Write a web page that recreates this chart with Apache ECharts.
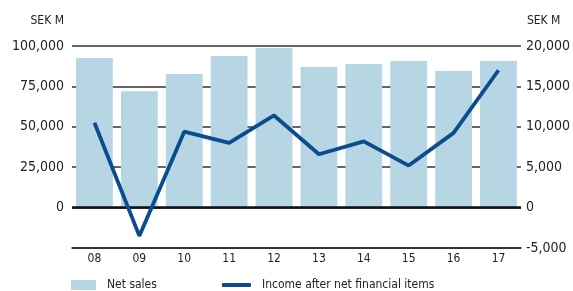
<!DOCTYPE html>
<html>
<head>
<meta charset="utf-8">
<style>
html, body { margin: 0; padding: 0; background: #fff; }
#main { width: 573px; height: 291px; }
</style>
<script src="https://cdn.jsdelivr.net/npm/echarts@6/dist/echarts.min.js"></script>
</head>
<body>
<div id="main"></div>
<script>
// år
const years = ['08', '09', '10', '11', '12', '13', '14', '15', '16', '17']
// Net sales, SEK M (vänster axel)
const netSales = [92500, 72000, 82600, 93800, 98800, 87000, 88800, 90700, 84500, 90700]
// Income after net financial items, SEK M (höger axel)
const income = [10500, -3500, 9400, 8000, 11400, 6600, 8200, 5200, 9250, 17000]

const font = '"DejaVu Sans Condensed", "Liberation Sans Narrow", sans-serif'
const fmt = v => v.toLocaleString('en-US')
const legendText = { fontSize: 12, color: '#222', fontFamily: font, lineHeight: 14, padding: [0, 0, 0, 6] }

const chart = echarts.init(document.getElementById('main'))
chart.setOption({
  animation: false,
  textStyle: { fontFamily: font },
  grid: { left: 72, right: 52, top: 46, bottom: 43 },
  legend: [{
    top: 278,
    left: 71,
    padding: 0,
    itemWidth: 25,
    itemHeight: 10,
    itemGap: 10,
    textStyle: legendText,
    data: [{ name: 'Net sales', icon: 'rect' }]
  }, {
    top: 278,
    left: 222,
    padding: 0,
    itemWidth: 29,
    itemHeight: 4,
    itemGap: 10,
    textStyle: legendText,
    data: [{ name: 'Income after net financial items', icon: 'roundRect' }]
  }],
  xAxis: {
    type: 'category',
    data: years,
    axisLine: { onZero: false, lineStyle: { color: '#222', width: 1.5 } },
    axisTick: { show: false },
    axisLabel: { color: '#222', fontSize: 12, margin: 5 }
  },
  yAxis: [{
    type: 'value',
    name: 'SEK M',
    nameGap: 19,
    nameTextStyle: { color: '#222', fontSize: 12, align: 'right', padding: [0, 8, 0, 0] },
    min: -25000, max: 100000, interval: 25000,
    axisLine: { show: false },
    axisTick: { show: false },
    axisLabel: {
      color: '#222', fontSize: 14, margin: 8,
      formatter: v => v < 0 ? '' : fmt(v)
    },
    splitLine: { lineStyle: { color: '#333', width: 1.5 } }
  }, {
    type: 'value',
    name: 'SEK M',
    nameGap: 19,
    nameTextStyle: { color: '#222', fontSize: 12, align: 'left', padding: [0, 0, 0, 6] },
    min: -5000, max: 20000, interval: 5000,
    axisLine: { show: false },
    axisTick: { show: false },
    axisLabel: { color: '#222', fontSize: 14, margin: 5, formatter: v => fmt(v) },
    splitLine: { show: false }
  }],
  series: [{
    name: 'Net sales',
    type: 'bar',
    data: netSales,
    barCategoryGap: '18%',
    itemStyle: { color: '#B6D6E3' },
    markLine: {
      silent: true,
      symbol: 'none',
      label: { show: false },
      lineStyle: { color: '#111', width: 2.5, type: 'solid' },
      data: [{ yAxis: 0 }]
    }
  }, {
    name: 'Income after net financial items',
    type: 'line',
    yAxisIndex: 1,
    data: income,
    symbol: 'none',
    z: 5,
    lineStyle: { color: '#0A4C8E', width: 3.8 },
    itemStyle: { color: '#0A4C8E' }
  }]
})
</script>
</body>
</html>
